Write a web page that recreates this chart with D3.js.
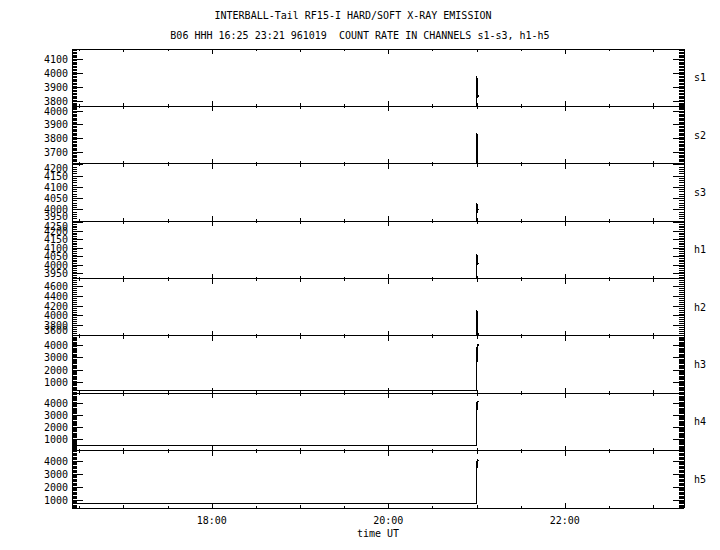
<!DOCTYPE html>
<html><head><meta charset="utf-8">
<script src="https://cdn.jsdelivr.net/npm/d3@7"></script>
<style>
body{margin:0;background:#fff;}
text{font-family:"DejaVu Sans Mono",monospace;font-size:10px;fill:#000;white-space:pre;}
</style></head>
<body><svg id="c" width="720" height="550"></svg>
<script>
// ---- data ----
const title1 = "INTERBALL-Tail RF15-I HARD/SOFT X-RAY EMISSION";
const title2 = "B06 HHH 16:25 23:21 961019  COUNT RATE IN CHANNELS s1-s3, h1-h5";
const xLabel = "time UT";
const channels = ["s1","s2","s3","h1","h2","h3","h4","h5"];
const timeStart = "16:25:00", timeEnd = "23:21:00";
const times = ["16:25:00","21:00:00","21:00:10","21:00:20","21:00:30","21:00:40","21:00:50","21:01:00"];
const s1 = [300, 300, 3980, 3830, 3970, 3825, 3960, 3835];
const s2 = [300, 300, 3840, 3790, 3835, 3795, 3830, 300];
const s3 = [300, 300, 4030, 3990, 4025, 3986, 4020, 4000];
const h1 = [300, 300, 4065, 4005, 4060, 4000, 4050, 4010];
const h2 = [300, 300, 4120, 3500, 4100, 3550, 4110, 3600];
const h3 = [287, 287, 2690, 4140, 2700, 4130, 2750, 4100];
const h4 = [496, 496, 3440, 4220, 3450, 4200, 3500, 4150];
const h5 = [746, 746, 3440, 4150, 3450, 4140, 3500, 4100];
const series = [s1, s2, s3, h1, h2, h3, h4, h5];
const yDomains = [[3767,4173],[3616,4036],[3950,4205],[3922,4260],[3594,4765],[98,4803],[25,4840],[385,4800]];
const majorSteps = [100,100,50,50,200,1000,1000,1000];
const minorSteps = [10,10,10,10,40,100,100,100];
const xTickLabels = ["18:00","20:00","22:00"];

// ---- layout ----
const svg = d3.select("#c");
const L = 72, R = 684, T = 49, B = 508;
const nP = channels.length;
const ph = (B - T) / nP;
const day = "1996-10-19T";
const parseT = s => new Date(day + s + "Z");
const x = d3.scaleUtc().domain([parseT(timeStart), parseT(timeEnd)]).range([L, R]);

svg.append("text").attr("x", 353).attr("y", 19).attr("text-anchor","middle").text(title1);
svg.append("text").attr("x", 360).attr("y", 39).attr("text-anchor","middle")
  .attr("xml:space","preserve").text(title2);

const halfHours = d3.utcMinute.every(30).range(parseT(timeStart), parseT(timeEnd));
const defs = svg.append("defs");

channels.forEach((name, i) => {
  const top = T + i*ph, bot = T + (i+1)*ph;
  const y = d3.scaleLinear().domain(yDomains[i]).range([bot, top]);
  const g = svg.append("g").attr("shape-rendering","crispEdges");
  defs.append("clipPath").attr("id","cp"+i).append("rect")
    .attr("x", L).attr("y", top).attr("width", R-L).attr("height", bot-top);
  g.append("line").attr("x1",L).attr("x2",R).attr("y1",top).attr("y2",top).attr("stroke","#000");
  g.append("line").attr("x1",L).attr("x2",R).attr("y1",bot).attr("y2",bot).attr("stroke","#000");
  halfHours.forEach(t => {
    const h = t.getUTCHours(), m = t.getUTCMinutes();
    const len = (m===0 && h%2===0) ? 5 : (m===0 ? 3 : 2);
    const xx = Math.round(x(t)) + 0.5;
    g.append("line").attr("x1",xx).attr("x2",xx).attr("y1",top).attr("y2",top+len).attr("stroke","#000");
    g.append("line").attr("x1",xx).attr("x2",xx).attr("y1",bot).attr("y2",bot-len).attr("stroke","#000");
  });
  const [d0, d1] = yDomains[i];
  const minors = d3.range(Math.ceil(d0/minorSteps[i])*minorSteps[i], d1+0.001, minorSteps[i]);
  const majors = d3.range(Math.ceil(d0/majorSteps[i])*majorSteps[i], d1+0.001, majorSteps[i]);
  minors.forEach(v => {
    g.append("line").attr("x1",L).attr("x2",L+5).attr("y1",y(v)).attr("y2",y(v)).attr("stroke","#000");
    g.append("line").attr("x1",R).attr("x2",R-5).attr("y1",y(v)).attr("y2",y(v)).attr("stroke","#000");
  });
  majors.forEach(v => {
    g.append("line").attr("x1",L).attr("x2",L+11).attr("y1",y(v)).attr("y2",y(v)).attr("stroke","#000");
    g.append("line").attr("x1",R).attr("x2",R-11).attr("y1",y(v)).attr("y2",y(v)).attr("stroke","#000");
    const ly = Math.max(top+5, Math.min(bot-5, y(v)));
    svg.append("text").attr("x", L-4).attr("y", ly).attr("dy","0.35em")
      .attr("text-anchor","end").text(v);
  });
  svg.append("text").attr("x", 694).attr("y", (top+bot)/2).attr("dy","0.35em").text(name);
  const pts = times.map((t,k) => [parseT(t), series[i][k]]);
  svg.append("path").attr("clip-path","url(#cp"+i+")")
    .attr("d", d3.line().x(d => x(d[0])).y(d => y(d[1]))(pts))
    .attr("fill","none").attr("stroke","#000").attr("stroke-width",1)
    .attr("shape-rendering","crispEdges");
});

svg.append("line").attr("x1",L+0.5).attr("x2",L+0.5).attr("y1",T).attr("y2",B).attr("stroke","#000");
svg.append("line").attr("x1",R+0.5).attr("x2",R+0.5).attr("y1",T).attr("y2",B).attr("stroke","#000");

xTickLabels.forEach(s => {
  svg.append("text").attr("x", x(parseT(s+":00"))).attr("y", 524).attr("text-anchor","middle").text(s);
});
svg.append("text").attr("x", (L+R)/2).attr("y", 537).attr("text-anchor","middle").text(xLabel);
</script></body></html>
